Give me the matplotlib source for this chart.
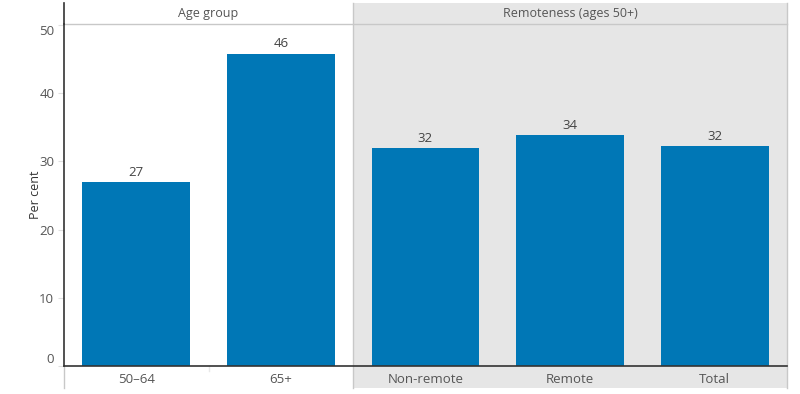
import matplotlib
matplotlib.use('Agg')
import matplotlib.pyplot as plt
from matplotlib.lines import Line2D
from matplotlib.patches import Rectangle

# data
categories = ['50\u201364', '65+', 'Non-remote', 'Remote', 'Total']
values = [26.9, 45.8, 31.9, 33.8, 32.2]
labels = ['27', '46', '32', '34', '32']
groups = ['Age group', 'Remoteness (ages 50+)']
group_sizes = [2, 3]
yticks = [0, 10, 20, 30, 40, 50]

W, H = 800, 394
BAR = '#0077b6'
GREY = '#e6e6e6'
EDGE = '#c8c8c8'
TXT = '#555555'

plt.rcParams['font.family'] = ['Open Sans', 'DejaVu Sans']

fig = plt.figure(figsize=(W / 100, H / 100), dpi=100)

def fx(x):
	return x / W

def fy(y):
	return 1 - y / H

left, right, top, base = 64, 787, 23.5, 366
ax = fig.add_axes([fx(left), fy(base), fx(right - left), fy(top) - fy(base)])
ax.set_facecolor('none')
ax.set_zorder(3)

# grey panel for the remoteness group, running through header and tick rows
fig.patches.append(Rectangle((fx(353), fy(388)), fx(right - 353), fy(3) - fy(388),
	transform=fig.transFigure, facecolor=GREY, edgecolor='none', zorder=0))

x = list(range(len(categories)))
ax.bar(x, values, width=0.745, color=BAR, zorder=2)
for xi, v, lab in zip(x, values, labels):
	ax.text(xi, v + 0.5, lab, ha='center', va='bottom', fontsize=9.5, color='#444444')

ax.set_xlim(-0.5, 4.5)
ax.set_ylim(0, 50.2)
ax.set_yticks(yticks)
ax.set_yticklabels([str(t) for t in yticks])
for t, lab in zip(yticks, ax.get_yticklabels()):
	if t == 0:
		lab.set_va('bottom')
	elif t == 50:
		lab.set_va('top')
ax.tick_params(axis='y', length=4, color='#e0e0e0', labelsize=9.5, labelcolor=TXT, pad=3)
ax.set_xticks(x)
ax.set_xticklabels(categories)
ax.tick_params(axis='x', length=0, labelsize=9.5, labelcolor=TXT, pad=5)
ax.set_ylabel('Per cent', fontsize=9, color='#333333', labelpad=-2)

for s in ['top', 'right']:
	ax.spines[s].set_visible(False)
ax.spines['left'].set_color('#333333')
ax.spines['bottom'].set_color('#333333')
ax.spines['left'].set_linewidth(1.2)
ax.spines['bottom'].set_linewidth(1.2)

def fline(x0, y0, x1, y1, c=EDGE, lw=1.0):
	fig.add_artist(Line2D([fx(x0), fx(x1)], [fy(y0), fy(y1)], color=c, lw=lw, zorder=1))

# header and panel borders
fline(left, top, right, top)
fline(left, 3, left, top, c='#333333', lw=1.2)
fline(left, base, left, 388)
fline(353, 3, 353, 388)
fline(right, 3, right, 388)
fline(209, base, 209, base + 5, c='#e8e8e8')

# group headers
start = left
span = (right - left) / len(categories)
for g, n in zip(groups, group_sizes):
	cx = start + span * n / 2
	fig.text(fx(cx), fy(13.5), g, ha='center', va='center', fontsize=9, color=TXT)
	start += span * n

plt.savefig('out.png', dpi=100)
